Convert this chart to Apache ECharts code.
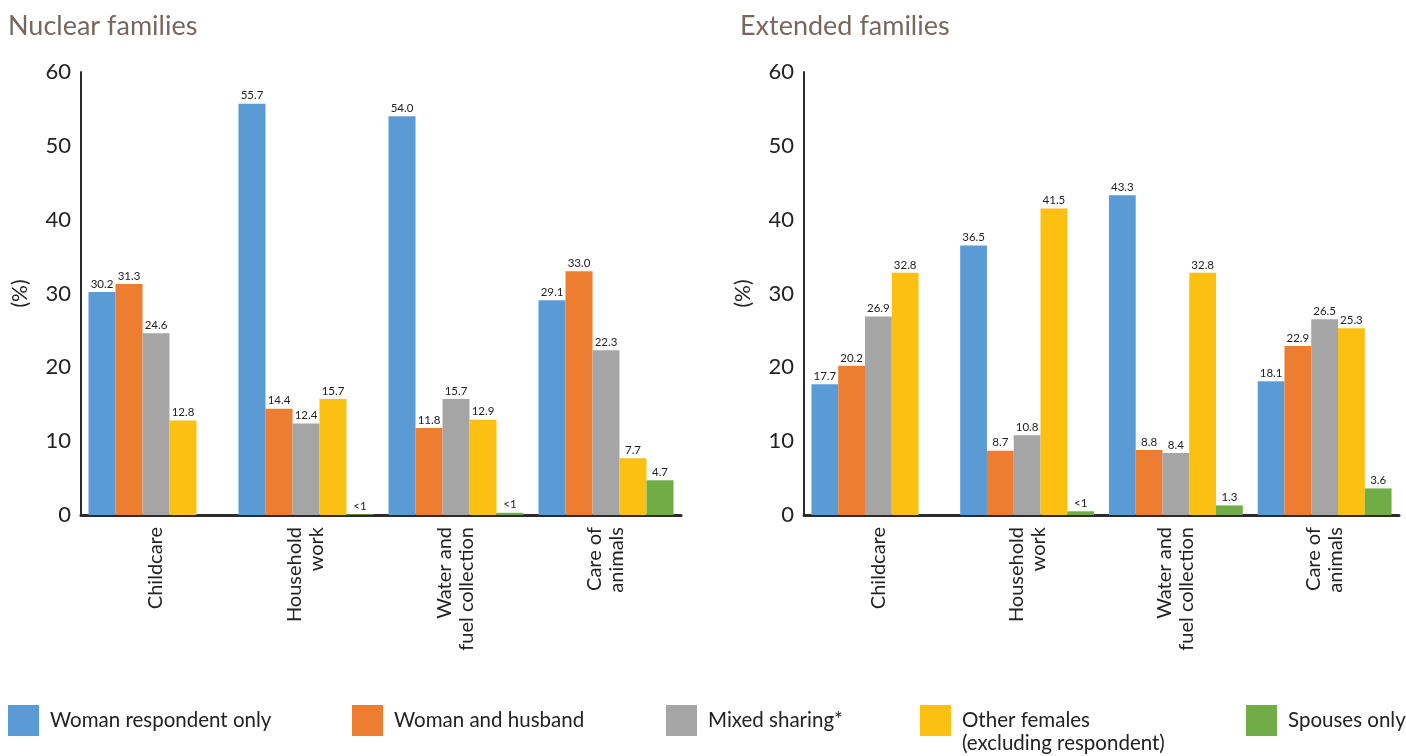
<!DOCTYPE html>
<html>
<head>
<meta charset="utf-8">
<title>Nuclear and extended families</title>
<script src="https://cdn.jsdelivr.net/npm/echarts@6/dist/echarts.min.js"></script>
<style>
  html, body { margin: 0; padding: 0; background: #ffffff; }
  #chart { width: 1406px; height: 756px; }
</style>
</head>
<body>
<div id="chart"></div>
<script>
// Task categories shared by both panels
const categories = ['Childcare', 'Household\nwork', 'Water and\nfuel collection', 'Care of\nanimals'];

// Who does the task, legend order
const seriesNames = [
  'Woman respondent only',
  'Woman and husband',
  'Mixed sharing*',
  'Other females\n(excluding respondent)',
  'Spouses only'
];
const seriesColors = ['#5B9BD5', '#ED7D31', '#A5A5A5', '#FBC012', '#70AD47'];

// Nuclear families (%)
const nuclearWomanOnly   = [30.2, 55.7, 54.0, 29.1];
const nuclearWithHusband = [31.3, 14.4, 11.8, 33.0];
const nuclearMixed       = [24.6, 12.4, 15.7, 22.3];
const nuclearOtherFemale = [12.8, 15.7, 12.9, 7.7];
const nuclearSpouses     = [null, 0.1, 0.3, 4.7];

// Extended families (%)
const extendedWomanOnly   = [17.7, 36.5, 43.3, 18.1];
const extendedWithHusband = [20.2, 8.7, 8.8, 22.9];
const extendedMixed       = [26.9, 10.8, 8.4, 26.5];
const extendedOtherFemale = [32.8, 41.5, 32.8, 25.3];
const extendedSpouses     = [null, 0.5, 1.3, 3.6];

// Value axis range
const yMin = 0, yMax = 60, yStep = 10;

const panelTitles = ['Nuclear families', 'Extended families'];

const FONT = 'Lato, "Open Sans", "DejaVu Sans", sans-serif';

const nuclearData = [nuclearWomanOnly, nuclearWithHusband, nuclearMixed, nuclearOtherFemale, nuclearSpouses];
const extendedData = [extendedWomanOnly, extendedWithHusband, extendedMixed, extendedOtherFemale, extendedSpouses];

const chart = echarts.init(document.getElementById('chart'), null, { renderer: 'canvas' });

function valueLabel(p) {
  const v = p.value;
  if (v === null || v === undefined) return '';
  return v < 1 ? '<1' : v.toFixed(1);
}

function buildSeries(dataSets, axisIndex) {
  return dataSets.map((values, i) => ({
    name: seriesNames[i],
    type: 'bar',
    xAxisIndex: axisIndex,
    yAxisIndex: axisIndex,
    data: values,
    barGap: '0%',
    barCategoryGap: '10%',
    itemStyle: { color: seriesColors[i] },
    label: {
      show: true,
      position: 'top',
      distance: 2,
      formatter: valueLabel,
      fontFamily: FONT,
      fontSize: 11.5,
      color: '#222222'
    },
    emphasis: { disabled: true },
    animation: false
  }));
}

function xAxisFor(gridIndex) {
  return {
    type: 'category',
    gridIndex: gridIndex,
    data: categories,
    axisLine: { show: true, lineStyle: { color: '#2b2b2b', width: 3 } },
    axisTick: { show: false },
    axisLabel: {
      rotate: 90,
      margin: 12,
      fontFamily: FONT,
      fontSize: 20,
      lineHeight: 22,
      color: '#222222',
      interval: 0
    }
  };
}

function yAxisFor(gridIndex) {
  return {
    type: 'value',
    gridIndex: gridIndex,
    min: yMin,
    max: yMax,
    interval: yStep,
    name: '(%)',
    nameLocation: 'middle',
    nameRotate: 90,
    nameGap: 50,
    nameTextStyle: { fontFamily: FONT, fontSize: 21, color: '#222222' },
    axisLine: { show: true, lineStyle: { color: '#2b2b2b', width: 2 } },
    axisTick: { show: false },
    splitLine: { show: false },
    axisLabel: {
      margin: 10,
      fontFamily: FONT,
      fontSize: 22,
      color: '#222222'
    }
  };
}

// One legend block per series so each entry sits at its own position.
// A two-line entry gets a leading blank line so its first line stays level with the swatch.
const legendLefts = [8, 352, 666, 920, 1246];
const legends = seriesNames.map((name, i) => {
  const twoLine = name.indexOf('\n') >= 0;
  return {
    left: legendLefts[i],
    top: twoLine ? 686 : 705,
    orient: 'horizontal',
    padding: 0,
    icon: 'rect',
    itemWidth: 31,
    itemHeight: 31,
    selectedMode: false,
    data: [name],
    formatter: twoLine ? (n => '\n' + n) : (n => n),
    textStyle: {
      fontFamily: FONT,
      fontSize: 20.5,
      lineHeight: 23,
      color: '#222222',
      padding: [0, 0, 0, 6]
    }
  };
});

const option = {
  backgroundColor: '#ffffff',
  animation: false,
  title: panelTitles.map((t, i) => ({
    text: t,
    left: i === 0 ? 8 : 740,
    top: 13,
    padding: 0,
    textStyle: { fontFamily: FONT, fontSize: 27, fontWeight: 'normal', color: '#76675f' }
  })),
  legend: legends,
  grid: [
    { left: 81, top: 72, width: 600, height: 443, containLabel: false },
    { left: 804, top: 72, width: 595, height: 443, containLabel: false }
  ],
  xAxis: [xAxisFor(0), xAxisFor(1)],
  yAxis: [yAxisFor(0), yAxisFor(1)],
  series: buildSeries(nuclearData, 0).concat(buildSeries(extendedData, 1))
};

chart.setOption(option);
</script>
</body>
</html>
